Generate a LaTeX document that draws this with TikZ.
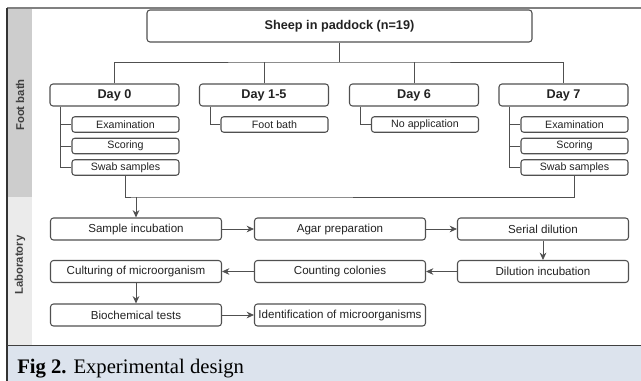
\documentclass[tikz,border=0pt]{standalone}
\usepackage{fontspec}
\setmainfont{Liberation Serif}
\setsansfont{Liberation Sans}
\usepackage{xcolor}
\definecolor{boxline}{HTML}{505050}
\definecolor{bathband}{HTML}{CDCDCD}
\definecolor{labband}{HTML}{EBEBEB}
\definecolor{capfill}{HTML}{DCE3ED}
\definecolor{inktext}{HTML}{222222}
\usetikzlibrary{arrows.meta}
\usetikzlibrary{positioning}

\begin{document}
\begin{tikzpicture}[x=0.75pt,y=-0.75pt,
	stage/.style={draw=boxline, line width=0.8pt, rounded corners=2.25pt, minimum width=96.75pt, minimum height=16.5pt, inner sep=1pt, text=inktext, font=\sffamily\bfseries\fontsize{9.5}{11}\selectfont},
	task/.style={draw=boxline, line width=0.8pt, rounded corners=2pt, minimum width=80.25pt, minimum height=11.6pt, inner sep=1pt, text=inktext, font=\sffamily\fontsize{8}{9}\selectfont},
	lab/.style={draw=boxline, line width=0.8pt, rounded corners=2.25pt, minimum width=128.25pt, minimum height=16.5pt, inner sep=1pt, text=inktext, font=\sffamily\fontsize{8.7}{10}\selectfont},
	side/.style={rotate=90, text=black!75, font=\sffamily\bfseries\fontsize{8.5}{10}\selectfont},
	link/.style={draw=boxline, line width=0.6pt},
	flow/.style={link, -{Stealth[length=5.5pt,width=5pt]}}]
		\useasboundingbox (0,0) rectangle (641,381);
		
		%draw frame & bands
		\fill[bathband] (7,8) rectangle (32,197);
		\fill[labband] (7,197) rectangle (32,345);
		\fill[capfill] (7,345) rectangle (641,381);
		\draw[black!50, line width=1.1pt] (7,8) -- (641,8);
		\draw[black!80, line width=1.1pt] (7,8) -- (7,381);
		\draw[black!75, line width=1.1pt] (7,345.5) -- (641,345.5);
		
		%side labels
		\node[side] (bathlabel) at (20,105) {Foot bath};
		\node[side] (lablabel) at (20,265) {Laboratory};
		
		%top box & days
		\node[stage, minimum width=288.75pt, minimum height=24pt] (herd) at (339.5,26) {Sheep in paddock (n=19)};
		\foreach \n/\x/\t in {d0/114.5/Day 0, d15/264/Day 1-5, d6/414/Day 6, d7/563.5/Day 7}
		\node[stage] (\n) at (\x,95) {\t};
		
		%tasks
		\node[task] (d0a) at (125.5,124.5) {Examination};
		\node[task] (d0b) at (125.5,146) {Scoring};
		\node[task] (d0c) at (125.5,167.5) {Swab samples};
		\node[task] (d15a) at (274.5,124.5) {Foot bath};
		\node[task] (d6a) at (425,124.5) {No application};
		\node[task] (d7a) at (574.5,124.5) {Examination};
		\node[task] (d7b) at (574.5,146) {Scoring};
		\node[task] (d7c) at (574.5,167.5) {Swab samples};
		
		%laboratory steps
		\node[lab] (incub) at (136,229) {Sample incubation};
		\node[lab] (agar) at (340,229) {Agar preparation};
		\node[lab] (serial) at (543,229) {Serial dilution};
		\node[lab] (culture) at (136,271.5) {Culturing of microorganism};
		\node[lab] (count) at (340,271.5) {Counting colonies};
		\node[lab] (dilinc) at (543,271.5) {Dilution incubation};
		\node[lab] (biochem) at (136,315) {Biochemical tests};
		\node[lab] (ident) at (340,315) {Identification of microorganisms};
		
		%tree lines
		\coordinate (split) at (339.5,62);
		\draw[link] (herd) -- (split);
		\draw[link] (d0) |- (split) -| (d7);
		\draw[link] (d15) -- (d15 |- split);
		\draw[link] (d6) -- (d6 |- split);
		\foreach \d/\s in {d0/d0a, d0/d0b, d0/d0c, d15/d15a, d6/d6a, d7/d7a, d7/d7b, d7/d7c}
		\draw[link] ([xshift=8.25pt]\d.south west) |- (\s);
		
		%samples to laboratory
		\coordinate (merge) at (136,197);
		\draw[link] (d0c) |- (merge) -| (d7c);
		\draw[flow] (merge) -- (incub);
		
		%laboratory flow
		\draw[flow] (incub) -- (agar);
		\draw[flow] (agar) -- (serial);
		\draw[flow] (serial) -- (dilinc);
		\draw[flow] (dilinc) -- (count);
		\draw[flow] (count) -- (culture);
		\draw[flow] (culture) -- (biochem);
		\draw[flow] (biochem) -- (ident);
		
		%caption
		\node[anchor=base west, inner sep=0pt, font=\fontsize{15.5}{18}\selectfont] (caption) at (17,373) {\textbf{Fig 2.} Experimental design};
\end{tikzpicture}
\end{document}
